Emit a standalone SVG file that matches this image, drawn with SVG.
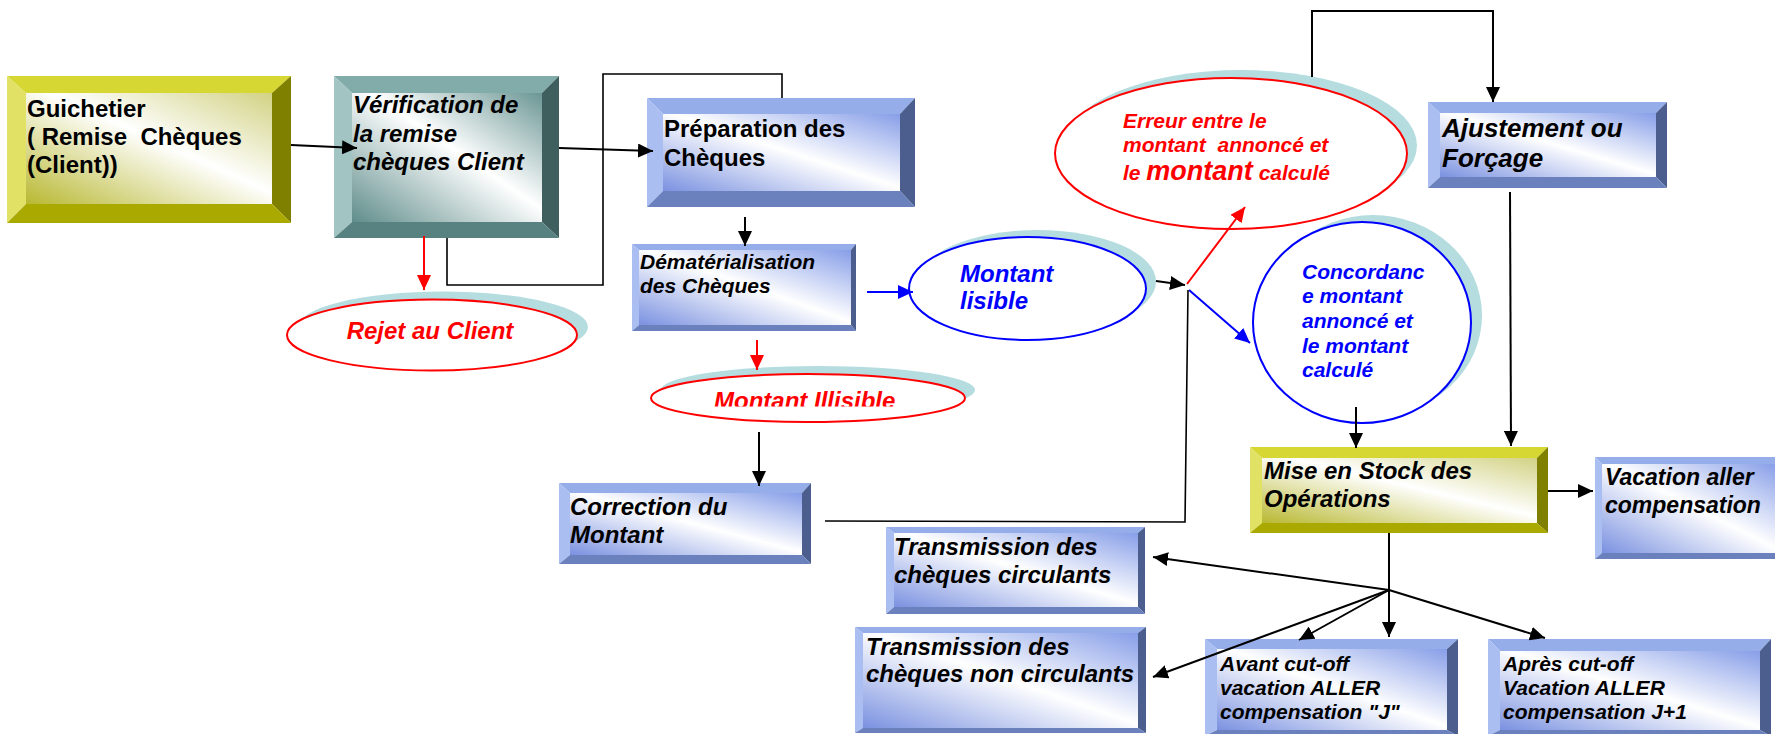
<svg xmlns="http://www.w3.org/2000/svg" width="1775" height="734" viewBox="0 0 1775 734">
  <defs>
    <style>
      .txt { font-family: "Liberation Sans", Arial, sans-serif; font-weight: bold; font-style: italic; fill: #000; }
      .up { font-style: normal; }
      .red { fill: #ff0000; }
      .blu { fill: #0000ff; }
      .blue .t { fill: #95aeea; } .blue .l { fill: #aabef1; } .blue .r { fill: #4b5e8e; } .blue .b { fill: #6a81bd; }
      .blue .in { fill: url(#gBlue); }
      .yel .t { fill: #d7d733; } .yel .l { fill: #e1e166; } .yel .r { fill: #7f7f00; } .yel .b { fill: #a9a900; }
      .yel .in { fill: url(#gYel); }
      .teal .t { fill: #82acaa; } .teal .l { fill: #a2c5c3; } .teal .r { fill: #3f5f5f; } .teal .b { fill: #588181; }
      .teal .in { fill: url(#gTeal); }
      .shadow { fill: #b5dde0; }
      .ovR { fill: #fff; stroke: #ff0000; stroke-width: 2; }
      .ovB { fill: #fff; stroke: #0000ff; stroke-width: 2; }
    </style>
    <linearGradient id="gBlue" x1="0" y1="1" x2="1" y2="0">
      <stop offset="0" stop-color="#7a91e0"/>
      <stop offset="0.52" stop-color="#ffffff"/>
      <stop offset="1" stop-color="#879ee8"/>
    </linearGradient>
    <linearGradient id="gYel" x1="0" y1="1" x2="1" y2="0">
      <stop offset="0" stop-color="#b8b832"/>
      <stop offset="0.55" stop-color="#ffffff"/>
      <stop offset="1" stop-color="#d2d284"/>
    </linearGradient>
    <linearGradient id="gTeal" x1="0" y1="1" x2="1" y2="0">
      <stop offset="0" stop-color="#5f8d8b"/>
      <stop offset="0.55" stop-color="#ffffff"/>
      <stop offset="1" stop-color="#6a9694"/>
    </linearGradient>
    <marker id="ahK" markerUnits="userSpaceOnUse" markerWidth="16" markerHeight="14" refX="15" refY="7" orient="auto">
      <path d="M0,0 L15,7 L0,14 z" fill="#000"/>
    </marker>
    <marker id="ahR" markerUnits="userSpaceOnUse" markerWidth="16" markerHeight="14" refX="15" refY="7" orient="auto">
      <path d="M0,0 L15,7 L0,14 z" fill="#ff0000"/>
    </marker>
    <marker id="ahB" markerUnits="userSpaceOnUse" markerWidth="16" markerHeight="14" refX="15" refY="7" orient="auto">
      <path d="M0,0 L15,7 L0,14 z" fill="#0000ff"/>
    </marker>
    <clipPath id="clipIll">
      <rect x="650" y="370" width="330" height="36.5"/>
    </clipPath>
  </defs>

  <rect width="1775" height="734" fill="#fff"/>

  <!-- Guichetier -->
  <g id="guichetier" class="yel">
    <polygon class="t" points="7,76 291,76 272,93 26,93"/>
    <polygon class="l" points="7,76 26,93 26,204 7,223"/>
    <polygon class="r" points="291,76 291,223 272,204 272,93"/>
    <polygon class="b" points="7,223 26,204 272,204 291,223"/>
    <rect class="in" x="26" y="93" width="246" height="111"/>
    <text class="txt up" font-size="24" xml:space="preserve"><tspan x="27" y="117">Guichetier</tspan><tspan x="27" y="145">( Remise  Chèques</tspan><tspan x="27" y="173">(Client))</tspan></text>
  </g>

  <!-- Vérification -->
  <g id="verification" class="teal">
    <polygon class="t" points="334,76 559,76 542,93 352,93"/>
    <polygon class="l" points="334,76 352,93 352,222 334,238"/>
    <polygon class="r" points="559,76 559,238 542,222 542,93"/>
    <polygon class="b" points="334,238 352,222 542,222 559,238"/>
    <rect class="in" x="352" y="93" width="190" height="129"/>
    <text class="txt" font-size="24"><tspan x="353" y="113">Vérification de</tspan><tspan x="353" y="142">la remise</tspan><tspan x="353" y="170">chèques Client</tspan></text>
  </g>

  <!-- Préparation -->
  <g id="preparation" class="blue">
    <polygon class="t" points="647,98 915,98 900,114 663,114"/>
    <polygon class="l" points="647,98 663,114 663,191 647,207"/>
    <polygon class="r" points="915,98 915,207 900,191 900,114"/>
    <polygon class="b" points="647,207 663,191 900,191 915,207"/>
    <rect class="in" x="663" y="114" width="237" height="77"/>
    <text class="txt up" font-size="24"><tspan x="664" y="137">Préparation des</tspan><tspan x="664" y="166">Chèques</tspan></text>
  </g>

  <!-- Dématérialisation -->
  <g id="dematerialisation" class="blue">
    <polygon class="t" points="632,244 856,244 851,250 639,250"/>
    <polygon class="l" points="632,244 639,250 639,325 632,331"/>
    <polygon class="r" points="856,244 856,331 851,325 851,250"/>
    <polygon class="b" points="632,331 639,325 851,325 856,331"/>
    <rect class="in" x="639" y="250" width="212" height="75"/>
    <text class="txt" font-size="21"><tspan x="640" y="269">Dématérialisation</tspan><tspan x="640" y="293">des Chèques</tspan></text>
  </g>

  <!-- Rejet au Client -->
  <g id="rejet">
    <ellipse class="shadow" cx="443" cy="327" rx="145" ry="35.5"/>
    <ellipse class="ovR" cx="432" cy="335" rx="145" ry="35.5"/>
    <text class="txt red" font-size="24" x="430" y="339" text-anchor="middle">Rejet au Client</text>
  </g>

  <!-- Montant Illisible -->
  <g id="illisible">
    <ellipse class="shadow" cx="818" cy="390" rx="157" ry="24"/>
    <ellipse class="ovR" cx="808" cy="398" rx="157" ry="24"/>
    <text class="txt red" font-size="24" x="714" y="409" clip-path="url(#clipIll)">Montant Illisible</text>
  </g>

  <!-- Correction du Montant -->
  <g id="correction" class="blue">
    <polygon class="t" points="559,483 811,483 802,493 570,493"/>
    <polygon class="l" points="559,483 570,493 570,555 559,564"/>
    <polygon class="r" points="811,483 811,564 802,555 802,493"/>
    <polygon class="b" points="559,564 570,555 802,555 811,564"/>
    <rect class="in" x="570" y="493" width="232" height="62"/>
    <text class="txt" font-size="24"><tspan x="570" y="515">Correction du</tspan><tspan x="570" y="543">Montant</tspan></text>
  </g>

  <!-- Montant lisible -->
  <g id="lisible">
    <ellipse class="shadow" cx="1037.5" cy="281.5" rx="118.5" ry="51.5"/>
    <ellipse class="ovB" cx="1027.5" cy="288.5" rx="118.5" ry="51.5"/>
    <text class="txt blu" font-size="24"><tspan x="960" y="282">Montant</tspan><tspan x="960" y="309">lisible</tspan></text>
  </g>

  <!-- Erreur entre montants -->
  <g id="erreur">
    <ellipse class="shadow" cx="1241" cy="145.5" rx="176" ry="75.5"/>
    <ellipse class="ovR" cx="1231" cy="153.5" rx="176" ry="75.5"/>
    <text class="txt red" font-size="21" xml:space="preserve"><tspan x="1123" y="128">Erreur entre le</tspan><tspan x="1123" y="152">montant  annoncé et</tspan><tspan x="1123" y="180">le <tspan font-size="27">montant</tspan> calculé</tspan></text>
  </g>

  <!-- Concordance -->
  <g id="concordance">
    <ellipse class="shadow" cx="1373" cy="315.5" rx="109" ry="100.5"/>
    <ellipse class="ovB" cx="1362" cy="322.5" rx="109" ry="100.5"/>
    <text class="txt blu" font-size="21"><tspan x="1302" y="279">Concordanc</tspan><tspan x="1302" y="303">e montant</tspan><tspan x="1302" y="328">annoncé et</tspan><tspan x="1302" y="353">le montant</tspan><tspan x="1302" y="377">calculé</tspan></text>
  </g>

  <!-- Ajustement ou Forçage -->
  <g id="ajustement" class="blue">
    <polygon class="t" points="1428,102 1667,102 1656,113 1440,113"/>
    <polygon class="l" points="1428,102 1440,113 1440,177 1428,188"/>
    <polygon class="r" points="1667,102 1667,188 1656,177 1656,113"/>
    <polygon class="b" points="1428,188 1440,177 1656,177 1667,188"/>
    <rect class="in" x="1440" y="113" width="216" height="64"/>
    <text class="txt" font-size="26"><tspan x="1442" y="137">Ajustement ou</tspan><tspan x="1442" y="167">Forçage</tspan></text>
  </g>

  <!-- Mise en Stock -->
  <g id="stock" class="yel">
    <polygon class="t" points="1250,447 1548,447 1537,458 1262,458"/>
    <polygon class="l" points="1250,447 1262,458 1262,523 1250,533"/>
    <polygon class="r" points="1548,447 1548,533 1537,523 1537,458"/>
    <polygon class="b" points="1250,533 1262,523 1537,523 1548,533"/>
    <rect class="in" x="1262" y="458" width="275" height="65"/>
    <text class="txt" font-size="24"><tspan x="1264" y="479">Mise en Stock des</tspan><tspan x="1264" y="507">Opérations</tspan></text>
  </g>

  <!-- Vacation aller -->
  <g id="vacation" class="blue">
    <polygon class="t" points="1595,457 1785,457 1778,464 1602,464"/>
    <polygon class="l" points="1595,457 1602,464 1602,553 1595,559"/>
    <polygon class="r" points="1785,457 1785,559 1778,553 1778,464"/>
    <polygon class="b" points="1595,559 1602,553 1778,553 1785,559"/>
    <rect class="in" x="1602" y="464" width="176" height="89"/>
    <text class="txt" font-size="23"><tspan x="1605" y="485">Vacation aller</tspan><tspan x="1605" y="513">compensation</tspan></text>
  </g>

  <!-- Transmission circulants -->
  <g id="trans-circ" class="blue">
    <polygon class="t" points="886,527 1145,527 1138,533 894,533"/>
    <polygon class="l" points="886,527 894,533 894,607 886,614"/>
    <polygon class="r" points="1145,527 1145,614 1138,607 1138,533"/>
    <polygon class="b" points="886,614 894,607 1138,607 1145,614"/>
    <rect class="in" x="894" y="533" width="244" height="74"/>
    <text class="txt" font-size="24"><tspan x="894" y="555">Transmission des</tspan><tspan x="894" y="583">chèques circulants</tspan></text>
  </g>

  <!-- Transmission non circulants -->
  <g id="trans-noncirc" class="blue">
    <polygon class="t" points="855,627 1146,627 1138,633 863,633"/>
    <polygon class="l" points="855,627 863,633 863,728 855,733"/>
    <polygon class="r" points="1146,627 1146,733 1138,728 1138,633"/>
    <polygon class="b" points="855,733 863,728 1138,728 1146,733"/>
    <rect class="in" x="863" y="633" width="275" height="95"/>
    <text class="txt" font-size="24"><tspan x="866" y="655">Transmission des</tspan><tspan x="866" y="682">chèques non circulants</tspan></text>
  </g>

  <!-- Avant cut-off -->
  <g id="avant" class="blue">
    <polygon class="t" points="1205,639 1458,639 1447,649 1217,649"/>
    <polygon class="l" points="1205,639 1217,649 1217,730 1205,736"/>
    <polygon class="r" points="1458,639 1458,736 1447,730 1447,649"/>
    <polygon class="b" points="1205,736 1217,730 1447,730 1458,736"/>
    <rect class="in" x="1217" y="649" width="230" height="81"/>
    <text class="txt" font-size="21"><tspan x="1220" y="671">Avant cut-off</tspan><tspan x="1220" y="695">vacation ALLER</tspan><tspan x="1220" y="719">compensation "J"</tspan></text>
  </g>

  <!-- Après cut-off -->
  <g id="apres" class="blue">
    <polygon class="t" points="1488,639 1771,639 1760,651 1500,651"/>
    <polygon class="l" points="1488,639 1500,651 1500,730 1488,736"/>
    <polygon class="r" points="1771,639 1771,736 1760,730 1760,651"/>
    <polygon class="b" points="1488,736 1500,730 1760,730 1771,736"/>
    <rect class="in" x="1500" y="651" width="260" height="79"/>
    <text class="txt" font-size="21"><tspan x="1503" y="671">Après cut-off</tspan><tspan x="1503" y="695">Vacation ALLER</tspan><tspan x="1503" y="719">compensation J+1</tspan></text>
  </g>

  <!-- Connectors -->
  <g id="connectors" fill="none" stroke="#000" stroke-width="2">
    <line x1="291" y1="145" x2="357" y2="148" marker-end="url(#ahK)"/>
    <line x1="559" y1="148" x2="653" y2="151" marker-end="url(#ahK)"/>
    <polyline stroke-width="1.6" points="447,238 447,285 603,285 603,74 782,74 782,98"/>
    <line x1="424" y1="236" x2="424" y2="290" stroke="#ff0000" marker-end="url(#ahR)"/>
    <line x1="745" y1="217" x2="745" y2="246" marker-end="url(#ahK)"/>
    <line x1="867" y1="292" x2="913" y2="292" stroke="#0000ff" marker-end="url(#ahB)"/>
    <line x1="757" y1="340" x2="757" y2="370" stroke="#ff0000" marker-end="url(#ahR)"/>
    <line x1="759" y1="432" x2="759" y2="486" marker-end="url(#ahK)"/>
    <line x1="1156" y1="281" x2="1185" y2="285" marker-end="url(#ahK)"/>
    <line x1="1187" y1="284" x2="1245" y2="207" stroke="#ff0000" marker-end="url(#ahR)"/>
    <line x1="1189" y1="290" x2="1250" y2="343" stroke="#0000ff" marker-end="url(#ahB)"/>
    <polyline stroke-width="1.6" points="1188,290 1185,522 825,521"/>
    <polyline points="1312,77 1312,11 1493,11 1493,102" marker-end="url(#ahK)"/>
    <line x1="1510" y1="192" x2="1511" y2="446" marker-end="url(#ahK)"/>
    <line x1="1356" y1="407" x2="1356" y2="448" marker-end="url(#ahK)"/>
    <line x1="1548" y1="491" x2="1593" y2="491" marker-end="url(#ahK)"/>
    <line x1="1389" y1="533" x2="1389" y2="590"/>
    <line x1="1389" y1="590" x2="1153" y2="557" marker-end="url(#ahK)"/>
    <line x1="1389" y1="590" x2="1153" y2="677" marker-end="url(#ahK)"/>
    <line x1="1389" y1="590" x2="1299" y2="640" marker-end="url(#ahK)"/>
    <line x1="1389" y1="590" x2="1389" y2="637" marker-end="url(#ahK)"/>
    <line x1="1389" y1="590" x2="1545" y2="638" marker-end="url(#ahK)"/>
  </g>
</svg>
